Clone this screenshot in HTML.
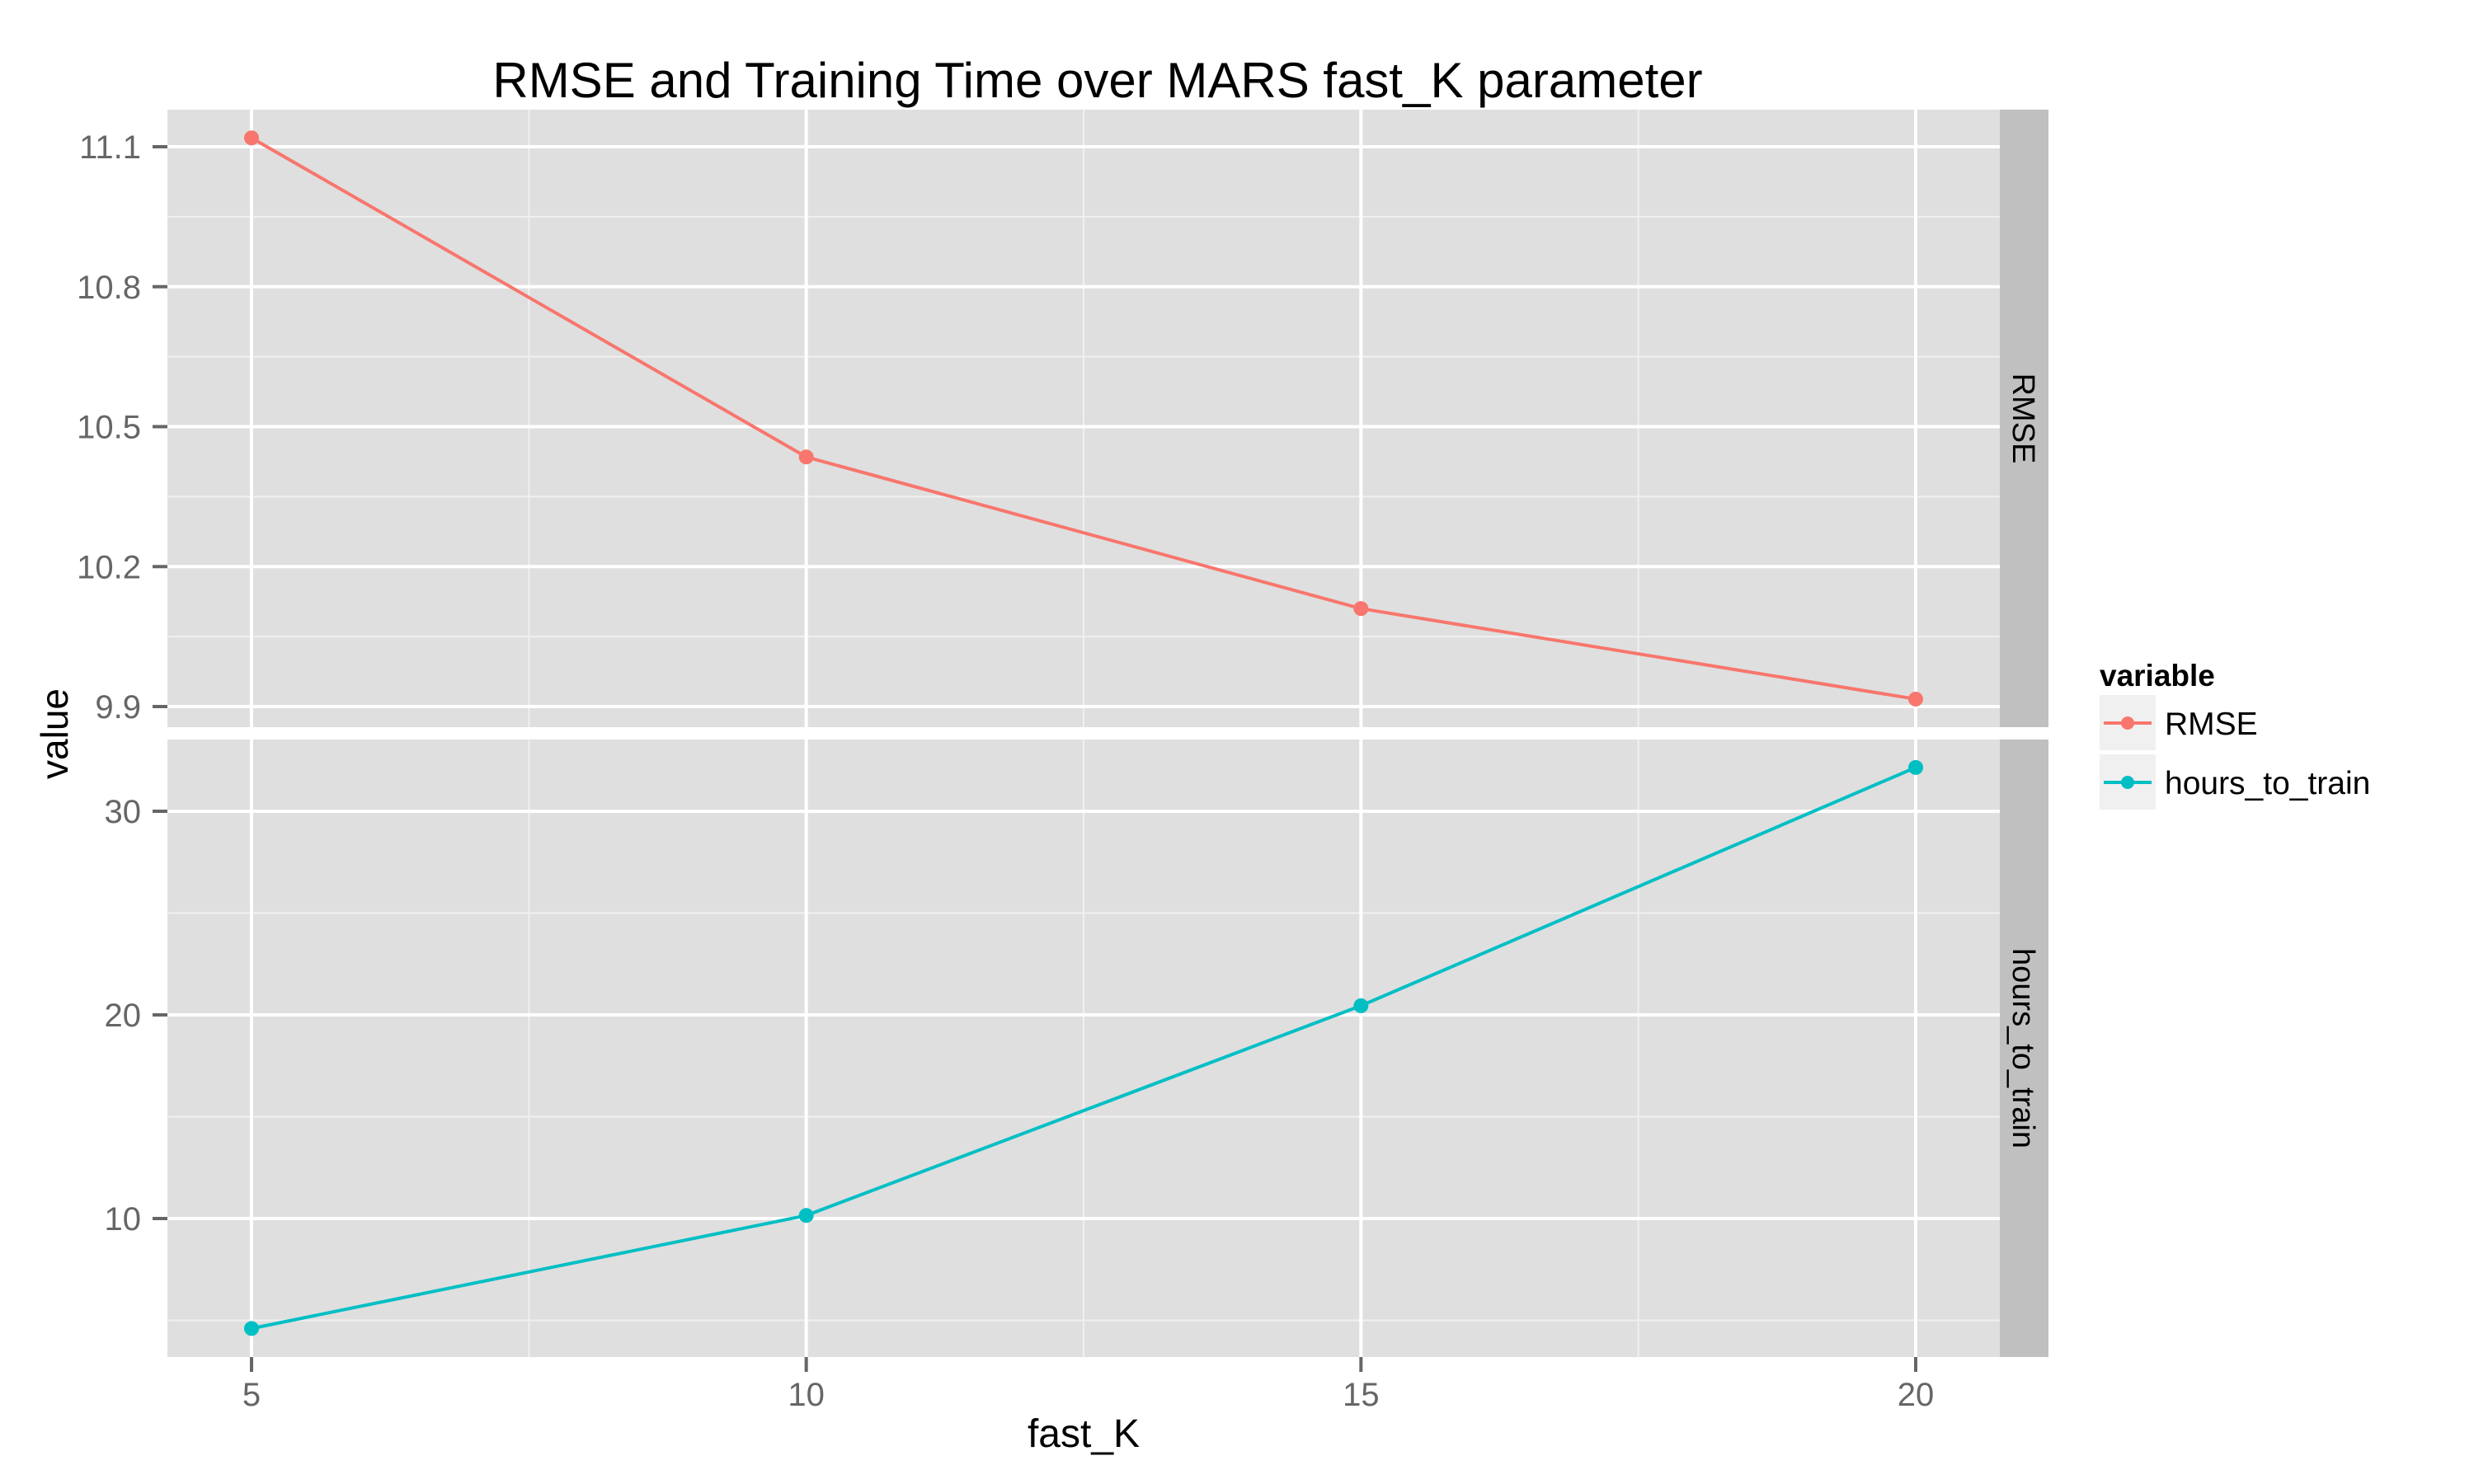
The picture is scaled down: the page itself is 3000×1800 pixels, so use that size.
<!DOCTYPE html>
<html><head><meta charset="utf-8"><style>
html,body{margin:0;padding:0;background:#fff;}
svg{display:block;font-family:"Liberation Sans",Arial,sans-serif;}
</style></head><body>
<svg id="chart" width="3000" height="1800" viewBox="0 0 3000 1800">
<text x="1331" y="118" font-size="60" text-anchor="middle" fill="#000">RMSE and Training Time over MARS fast_K parameter</text>
<g id="g"></g>
<text transform="translate(82,890) rotate(-90)" font-size="46" text-anchor="middle" fill="#000">value</text>
<text x="1314" y="1755" font-size="48" text-anchor="middle" fill="#000">fast_K</text>
<g>
<text x="2546" y="832" font-size="37" font-weight="bold" fill="#000">variable</text>
<rect x="2546" y="843" width="68" height="67" fill="#f0f0f0"/>
<line x1="2551" y1="877" x2="2609" y2="877" stroke="#F8766D" stroke-width="4"/>
<circle cx="2580" cy="877" r="8" fill="#F8766D"/>
<text x="2625" y="891" font-size="39" fill="#000">RMSE</text>
<rect x="2546" y="915" width="68" height="67" fill="#f0f0f0"/>
<line x1="2551" y1="949" x2="2609" y2="949" stroke="#00BFC4" stroke-width="4"/>
<circle cx="2580" cy="949" r="8" fill="#00BFC4"/>
<text x="2625" y="963" font-size="39" fill="#000">hours_to_train</text>
</g>
</svg>
<script>
const fastK = [5, 10, 15, 20];
const rmseValues = [11.119, 10.435, 10.11, 9.916];
const hoursValues = [4.6, 10.15, 20.45, 32.15];
const rmseTicks = [9.9, 10.2, 10.5, 10.8, 11.1];
const hoursTicks = [10, 20, 30];
const xTicks = [5, 10, 15, 20];

const NS = "http://www.w3.org/2000/svg";
const g = document.getElementById('g');
function mk(tag, attrs, parent){const e=document.createElementNS(NS,tag);for(const k in attrs)e.setAttribute(k,attrs[k]);(parent||g).appendChild(e);return e;}
const L=203,R=2425;
const xs = v => 305 + (v-5)*(2323-305)/15;
const panels = [
  {top:133,bot:882,vals:rmseValues,ticks:rmseTicks,minorStep:0.15,fmt:v=>v.toFixed(1),color:'#F8766D',label:'RMSE',
   y:v=>178+(11.1-v)*(857-178)/1.2, name:'rmse'},
  {top:897,bot:1646,vals:hoursValues,ticks:hoursTicks,minorStep:5,fmt:v=>String(v),color:'#00BFC4',label:'hours_to_train',
   y:v=>984+(30-v)*24.7, name:'hours'}
];
panels.forEach(p=>{
  const bg = mk('rect',{x:L,y:p.top,width:R-L,height:p.bot-p.top,fill:'#dfdfdf'});
  
  
  for(let v=p.ticks[0]-p.minorStep; v<=p.ticks[p.ticks.length-1]+p.minorStep+1e-9; v+=2*p.minorStep){
    const yy=p.y(v); if(yy>p.top&&yy<p.bot) mk('line',{x1:L,x2:R,y1:yy,y2:yy,stroke:'#f0f0f0','stroke-width':2});
  }
  [7.5,12.5,17.5].forEach(v=>mk('line',{x1:xs(v),x2:xs(v),y1:p.top,y2:p.bot,stroke:'#f0f0f0','stroke-width':2}));
  p.ticks.forEach(t=>{
    const yy=p.y(t);
    mk('line',{x1:L,x2:R,y1:yy,y2:yy,stroke:'#fff','stroke-width':4});
    mk('line',{x1:185,x2:L,y1:yy,y2:yy,stroke:'#666','stroke-width':4});
    const tx=mk('text',{x:171,y:yy+14,'font-size':40,'text-anchor':'end',fill:'#666'});
    tx.textContent=p.fmt(t);
    
    
  });
  xTicks.forEach(t=>mk('line',{x1:xs(t),x2:xs(t),y1:p.top,y2:p.bot,stroke:'#fff','stroke-width':4}));
  const pts = fastK.map((k,i)=>xs(k)+','+p.y(p.vals[i])).join(' ');
  const ln = mk('polyline',{points:pts,fill:'none',stroke:p.color,'stroke-width':4});
  
  
  fastK.forEach((k,i)=>{
    const c=mk('circle',{cx:xs(k),cy:p.y(p.vals[i]),r:9,fill:p.color});
    
    
  });
  const st=mk('rect',{x:R,y:p.top,width:2484-R,height:p.bot-p.top,fill:'#c0c0c0'});
  
  
  const cy=(p.top+p.bot)/2;
  const stx=mk('text',{transform:`translate(2441,${cy}) rotate(90)`,'font-size':38,'text-anchor':'middle',fill:'#000'});
  stx.textContent=p.label;
  
  
});
xTicks.forEach(t=>{
  mk('line',{x1:xs(t),x2:xs(t),y1:1646,y2:1664,stroke:'#666','stroke-width':4});
  const tx=mk('text',{x:xs(t),y:1705,'font-size':40,'text-anchor':'middle',fill:'#666'});
  tx.textContent=String(t);
  
  
});
</script>
</body></html>
